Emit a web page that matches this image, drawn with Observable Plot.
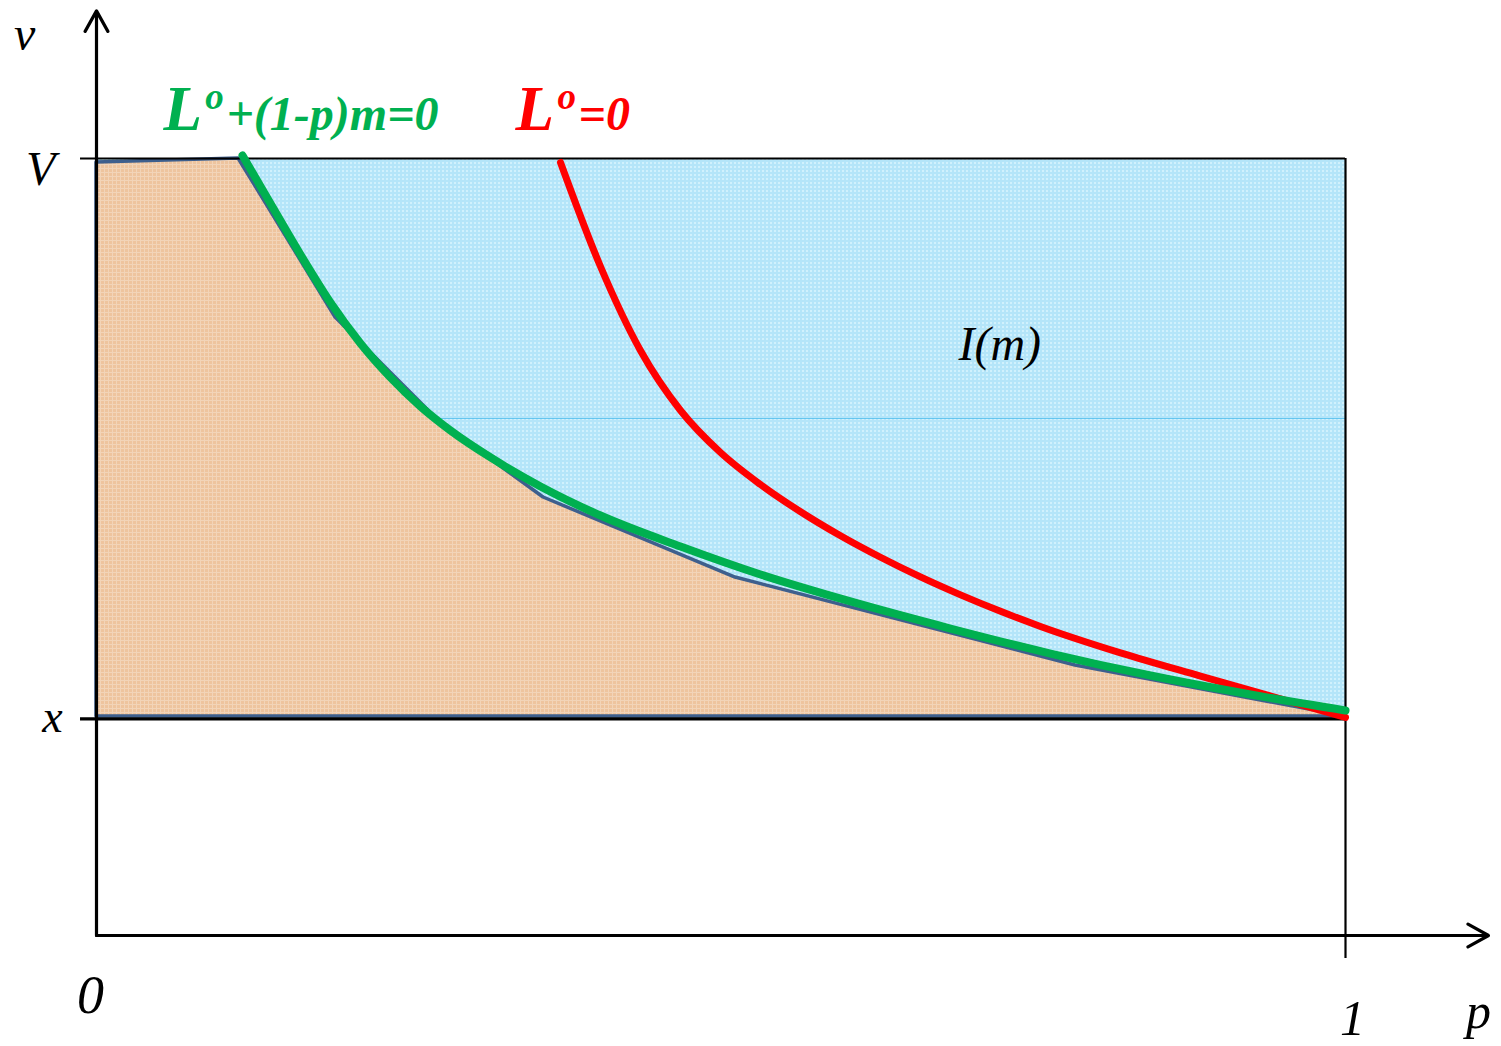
<!DOCTYPE html>
<html>
<head>
<meta charset="utf-8">
<script src="https://cdn.jsdelivr.net/npm/d3@7"></script>
<script src="https://cdn.jsdelivr.net/npm/@observablehq/plot@0.6"></script>
<style>
  html, body { margin: 0; padding: 0; background: #fff; overflow: hidden; }
  #chart svg { display: block; }
</style>
</head>
<body>
<svg width="0" height="0" style="position:absolute">
  <defs>
    <pattern id="blueGrid" width="4" height="4" patternUnits="userSpaceOnUse">
      <rect width="4" height="4" fill="#d0f1fd"/>
      <rect width="4" height="2" fill="#b4e5f9"/>
      <rect width="2" height="4" fill="#b4e5f9"/>
    </pattern>
    <pattern id="orangeGrid" width="4" height="4" patternUnits="userSpaceOnUse">
      <rect width="4" height="4" fill="#eec49e"/>
      <rect width="4" height="1" fill="#f2d4b8"/>
      <rect width="1" height="4" fill="#f2d4b8"/>
    </pattern>
  </defs>
</svg>
<div id="chart"></div>
<script>
// Levels on the v axis
const V = 1;
const xLevel = 0.282;
const midLevel = 0.6654;

// Boundary of the shaded lower region (piecewise linear)
const orangeP = [0, 0.1137, 0.1914, 0.2114, 0.2754, 0.3579, 0.5116, 0.7838, 1.0];
const orangeV = [0.995, 1.0, 0.7954, 0.7632, 0.6602, 0.5637, 0.4607, 0.3475, 0.282];

// Curve L° + (1-p)m = 0
const greenP = [0.1169, 0.1393, 0.1633, 0.1873, 0.2114, 0.2354, 0.2594, 0.2834, 0.3155, 0.3555,
                0.4035, 0.4676, 0.5316, 0.6037, 0.6837, 0.7638, 0.8439, 0.9239, 1.0];
const greenV = [1.0039, 0.9421, 0.8764, 0.8147, 0.7619, 0.7181, 0.6808, 0.6499, 0.6152, 0.5779,
                0.5405, 0.5006, 0.4646, 0.4299, 0.3951, 0.3629, 0.3346, 0.3102, 0.2896];

// Curve L° = 0
const redP = [0.3715, 0.4035, 0.4355, 0.4676, 0.4996, 0.5316, 0.5637, 0.5957, 0.6277, 0.6597,
              0.6918, 0.7238, 0.7558, 0.8199, 0.8839, 0.9480, 1.0];
const redV = [0.9949, 0.8610, 0.7529, 0.6757, 0.6216, 0.5804, 0.5454, 0.5145, 0.4868, 0.4615,
              0.4384, 0.4172, 0.3977, 0.3637, 0.3338, 0.3045, 0.2806];

// Axis extents (arrow tips)
const pMax = 1.1145;
const vMax = 1.19;

const serif = "'Liberation Serif', 'Times New Roman', serif";

const axisLabels = [
  {p: -0.0576, v: 1.139, text: "v", size: 48},
  {p: -0.0448, v: 0.9653, text: "V", size: 48},
  {p: -0.0352, v: 0.2613, text: "x", size: 46},
  {p: -0.0048, v: -0.0991, text: "0", size: 54},
  {p: 1.0056, v: -0.1275, text: "1", size: 50},
  {p: 1.1065, v: -0.1185, text: "p", size: 50}
];

const green = "#00b050";
const red = "#ff0000";

function formula(p0, v0, rest, color) {
  return [
    Plot.text([0], {x: p0, y: v0, text: () => "L", fontSize: 63, fontStyle: "italic", fontWeight: "bold",
      fontFamily: serif, fill: color, textAnchor: "start", lineAnchor: "bottom"}),
    Plot.text([0], {x: p0 + 0.0335, y: v0 + 0.027, text: () => "o", fontSize: 37, fontStyle: "italic", fontWeight: "bold",
      fontFamily: serif, fill: color, textAnchor: "start", lineAnchor: "bottom"}),
    Plot.text([0], {x: p0 + 0.0505, y: v0, text: () => rest, fontSize: 48, fontStyle: "italic", fontWeight: "bold",
      fontFamily: serif, fill: color, textAnchor: "start", lineAnchor: "bottom"})
  ];
}

const chart = Plot.plot({
  width: 1501,
  height: 1046,
  marginLeft: 96,
  marginRight: 156,
  marginTop: 158,
  marginBottom: 111,
  x: {domain: [0, 1], axis: null},
  y: {domain: [0, 1], axis: null},
  style: {background: "white", overflow: "visible"},
  marks: [
    // upper region I(m)
    Plot.rect([0], {x1: 0, x2: 1, y1: xLevel, y2: V, fill: "url(#blueGrid)"}),
    Plot.ruleY([midLevel], {x1: 0, x2: 1, stroke: "#4dbdec", strokeWidth: 1.2, strokeOpacity: 0.8}),
    // lower region
    Plot.areaY({length: orangeP.length}, {x: orangeP, y1: xLevel, y2: orangeV,
      fill: "url(#orangeGrid)", stroke: "#3e5f8d", strokeWidth: 3.5, strokeLinejoin: "round"}),
    // frame lines
    Plot.ruleY([V], {x1: -0.0128, x2: 1, stroke: "black", strokeWidth: 2.2}),
    Plot.ruleY([xLevel], {x1: -0.0128, x2: 1, stroke: "black", strokeWidth: 3.3, dy: 2.5}),
    Plot.ruleX([1], {y1: -0.0296, y2: V, stroke: "black", strokeWidth: 2.2}),
    // axes
    Plot.arrow([0], {x1: 0, y1: 0, x2: 0, y2: vMax, stroke: "black", strokeWidth: 3.2, headLength: 11, headAngle: 58}),
    Plot.arrow([0], {x1: 0, y1: 0, x2: pMax, y2: 0, stroke: "black", strokeWidth: 3.2, headLength: 11, headAngle: 58}),
    // curves
    Plot.line({length: redP.length}, {x: redP, y: redV, stroke: red, strokeWidth: 7, curve: "monotone-x"}),
    Plot.line({length: greenP.length}, {x: greenP, y: greenV, stroke: green, strokeWidth: 8, curve: "monotone-x"}),
    // labels
    Plot.text(axisLabels, {x: "p", y: "v", text: "text", fontSize: d => d.size, fontStyle: "italic",
      fontFamily: serif, fill: "black", textAnchor: "middle", lineAnchor: "bottom"}),
    Plot.text([0], {x: 0.6901, y: 0.7413, text: () => "I(m)", fontSize: 48, fontStyle: "italic",
      fontFamily: serif, fill: "black", textAnchor: "start", lineAnchor: "bottom"}),
    ...formula(0.0536, 1.0373, "+(1-p)m=0", green),
    ...formula(0.3355, 1.0373, "=0", red)
  ]
});

document.getElementById("chart").appendChild(chart);
</script>
</body>
</html>
